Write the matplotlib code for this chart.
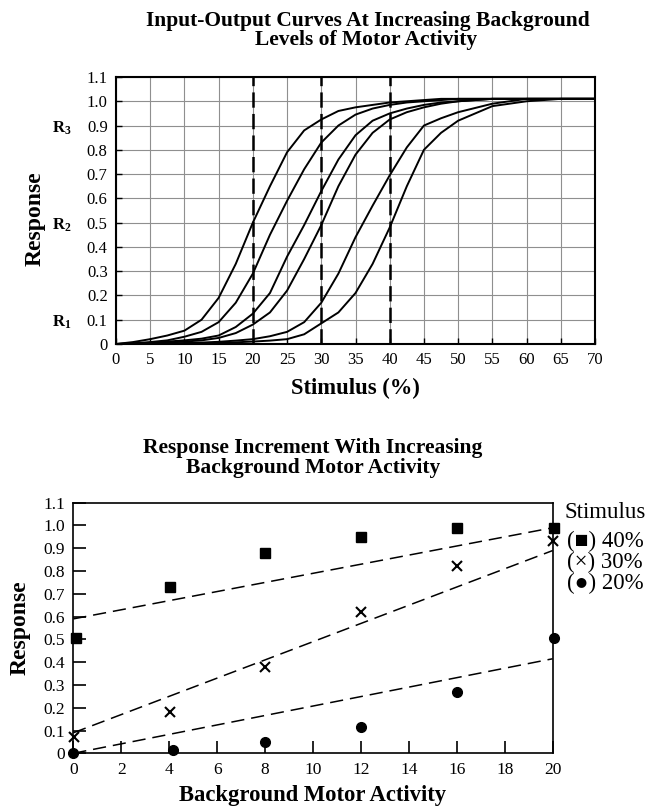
import numpy as np
import matplotlib
matplotlib.use("Agg")
import matplotlib.pyplot as plt
from matplotlib.transforms import blended_transform_factory

plt.rcParams['font.family'] = ['Liberation Serif', 'DejaVu Serif']
plt.rcParams['mathtext.fontset'] = 'custom'
plt.rcParams['mathtext.rm'] = 'Liberation Serif'
plt.rcParams['mathtext.bf'] = 'Liberation Serif:bold'
plt.rcParams['lines.scale_dashes'] = False

# --- input-output curves (stimulus % vs response) ---
stimulus = [0, 2.5, 5, 7.5, 10, 12.5, 15, 17.5, 20, 22.5, 25, 27.5, 30, 32.5,
            35, 37.5, 40, 42.5, 45, 47.5, 50, 55, 60, 65, 70]
curve_1 = [0, 0.008, 0.02, 0.035, 0.055, 0.1, 0.19, 0.33, 0.5, 0.65, 0.79, 0.88, 0.925,
           0.96, 0.975, 0.985, 0.995, 1.0, 1.005, 1.01, 1.01, 1.01, 1.01, 1.01, 1.01]
curve_2 = [0, 0.003, 0.008, 0.015, 0.03, 0.05, 0.09, 0.17, 0.29, 0.45, 0.59, 0.72, 0.83,
           0.9, 0.945, 0.97, 0.985, 0.995, 1.0, 1.005, 1.01, 1.01, 1.01, 1.01, 1.01]
curve_3 = [0, 0.002, 0.005, 0.01, 0.015, 0.022, 0.035, 0.07, 0.125, 0.21, 0.36, 0.49, 0.63,
           0.76, 0.86, 0.92, 0.95, 0.97, 0.985, 0.995, 1.0, 1.01, 1.01, 1.01, 1.01]
curve_4 = [0, 0.001, 0.003, 0.006, 0.01, 0.015, 0.025, 0.045, 0.08, 0.13, 0.22, 0.35, 0.49,
           0.65, 0.78, 0.87, 0.925, 0.955, 0.975, 0.99, 1.0, 1.01, 1.01, 1.01, 1.01]
curve_5 = [0, 0, 0.001, 0.002, 0.004, 0.006, 0.009, 0.014, 0.02, 0.032, 0.05, 0.09, 0.17,
           0.29, 0.44, 0.57, 0.695, 0.81, 0.9, 0.93, 0.955, 0.99, 1.01, 1.01, 1.01]
curve_6 = [0, 0, 0, 0.001, 0.002, 0.003, 0.005, 0.007, 0.01, 0.014, 0.02, 0.04, 0.085,
           0.13, 0.21, 0.33, 0.48, 0.65, 0.8, 0.87, 0.92, 0.98, 1.0, 1.01, 1.01]
curves = [curve_1, curve_2, curve_3, curve_4, curve_5, curve_6]
test_stimuli = [20, 30, 40]
r_levels = [0.9, 0.5, 0.1]
r_names = [r'$\mathbf{R_3}$', r'$\mathbf{R_2}$', r'$\mathbf{R_1}$']

# --- response increment vs background motor activity ---
activity = [0, 4, 8, 12, 16, 20]
resp_40 = [0.505, 0.73, 0.88, 0.95, 0.99, 0.99]
resp_30 = [0.07, 0.18, 0.38, 0.62, 0.82, 0.93]
resp_20 = [0.0, 0.015, 0.048, 0.117, 0.27, 0.505]
activity_40 = [0.1, 4.05, 8, 12, 16, 20.05]
activity_30 = [0.03, 4.05, 8, 12, 16, 20]
activity_20 = [0, 4.15, 8, 12, 16, 20.05]
trend_x = [0, 20]
trend_40 = [0.59, 0.99]
trend_30 = [0.09, 0.89]
trend_20 = [0.0, 0.415]
legend_labels = ['(\u25a0) 40%', '(\u00d7) 30%', '(\u25cf) 20%']

W, H = 647, 807
fig = plt.figure(figsize=(W / 100, H / 100), dpi=100)


def fx(px):
    return px / W


def fy(py):
    return 1 - py / H


# ---------------- top panel ----------------
ax1 = fig.add_axes([fx(116), fy(344), fx(595) - fx(116), fy(77) - fy(344)])
ax1.set_xlim(0, 70)
ax1.set_ylim(0, 1.1)
ax1.set_xticks(np.arange(0, 71, 5))
ax1.set_yticks(np.arange(0, 1.11, 0.1))
ax1.set_yticklabels(['0'] + [f'{v:.1f}' for v in np.arange(0.1, 1.11, 0.1)])
ax1.grid(True, color='#8f8f8f', linewidth=0.8)
ax1.set_axisbelow(True)
ax1.tick_params(direction='in', length=4, width=1, labelsize=12, pad=6)
for sp in ax1.spines.values():
    sp.set_linewidth(1.5)

for s in test_stimuli:
    ax1.axvline(s, color='black', linewidth=1.8, linestyle=(0, (11, 4.5)), zorder=3)
for c in curves:
    ax1.plot(stimulus, c, color='black', linewidth=1.4, zorder=4)

trans = blended_transform_factory(ax1.transAxes, ax1.transData)
for lvl, name in zip(r_levels, r_names):
    ax1.text(-0.113, lvl - 0.01, name, transform=trans, ha='center', va='center',
             fontsize=12)

ax1.set_xlabel('Stimulus (%)', fontsize=16.3, fontweight='bold', labelpad=7)
ax1.set_ylabel('Response', fontsize=17, fontweight='bold')
ax1.yaxis.set_label_coords((46 - 116) / (595 - 116), 0.47)

fig.text(fx(368), fy(26), 'Input-Output Curves At Increasing Background',
         ha='center', va='baseline', fontsize=15.5, fontweight='bold')
fig.text(fx(366), fy(45.5), 'Levels of Motor Activity',
         ha='center', va='baseline', fontsize=15.5, fontweight='bold')

# ---------------- bottom panel ----------------
ax2 = fig.add_axes([fx(73.3), fy(753.3), fx(552.7) - fx(73.3), fy(502.7) - fy(753.3)])
ax2.set_xlim(0, 20)
ax2.set_ylim(0, 1.1)
ax2.set_xticks(np.arange(0, 21, 2))
ax2.set_yticks(np.arange(0, 1.11, 0.1))
ax2.set_yticklabels(['0'] + [f'{v:.1f}' for v in np.arange(0.1, 1.11, 0.1)])
ax2.tick_params(direction='in', length=9, width=1.2, labelsize=12.5, pad=6)
for sp in ax2.spines.values():
    sp.set_linewidth(1.2)

dash = (0, (9.5, 5))
ax2.plot(trend_x, trend_40, color='black', linewidth=1.1, linestyle=dash)
ax2.plot(trend_x, trend_30, color='black', linewidth=1.1, linestyle=dash)
ax2.plot(trend_x, trend_20, color='black', linewidth=1.1, linestyle=dash)
ax2.plot(activity_40, resp_40, 's', color='black', markersize=6.5, clip_on=False, zorder=5)
ax2.plot(activity_30, resp_30, 'x', color='black', markersize=6.5, markeredgewidth=1.5,
         clip_on=False, zorder=5)
ax2.plot(activity_20, resp_20, 'o', color='black', markersize=7, clip_on=False, zorder=5)

ax2.set_xlabel('Background Motor Activity', fontsize=16.3, fontweight='bold', labelpad=5)
ax2.set_ylabel('Response', fontsize=17, fontweight='bold')
ax2.yaxis.set_label_coords((31 - 73.3) / (552.7 - 73.3), 0.5)

fig.text(fx(313), fy(453), 'Response Increment With Increasing',
         ha='center', va='baseline', fontsize=15.5, fontweight='bold')
fig.text(fx(313), fy(472.5), 'Background Motor Activity',
         ha='center', va='baseline', fontsize=15.5, fontweight='bold')

fig.text(fx(565), fy(518), 'Stimulus', ha='left', va='baseline', fontsize=16.5)
for i, lab in enumerate(legend_labels):
    fig.text(fx(567), fy(547 + 21 * i), lab, ha='left', va='baseline', fontsize=16.5)

fig.savefig('out.png', dpi=100)
